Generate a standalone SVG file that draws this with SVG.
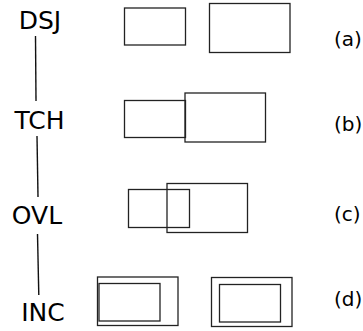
<svg xmlns="http://www.w3.org/2000/svg" width="363" height="331" viewBox="0 0 363 331">
<style>
.lbl{font-family:"DejaVu Sans",sans-serif;font-size:25px;fill:#000;text-anchor:middle}
.tag{font-family:"DejaVu Sans",sans-serif;font-size:20px;fill:#000}
.box{fill:none;stroke:#222;stroke-width:1.3}
.edge{stroke:#111;stroke-width:1.4;fill:none}
</style>
<rect width="363" height="331" fill="#fff"/>
<g id="connectors">
<line class="edge" x1="35.5" y1="36" x2="36" y2="101"/>
<line class="edge" x1="37" y1="136" x2="38" y2="197"/>
<line class="edge" x1="37.5" y1="234" x2="38.8" y2="295"/>
</g>
<g id="DSJ"><text class="lbl" x="40" y="28.5">DSJ</text></g>
<g id="TCH"><text class="lbl" x="39.5" y="128.5">TCH</text></g>
<g id="OVL"><text class="lbl" x="37" y="223.5">OVL</text></g>
<g id="INC"><text class="lbl" x="43" y="321">INC</text></g>
<g id="a">
<rect class="box" x="124.5" y="8" width="61" height="37"/>
<rect class="box" x="209.5" y="3.5" width="80.5" height="49"/>
<text class="tag" x="334" y="46">(a)</text>
</g>
<g id="b">
<rect class="box" x="124.5" y="100.5" width="61" height="37"/>
<rect class="box" x="185" y="93" width="80.5" height="49"/>
<text class="tag" x="334" y="131">(b)</text>
</g>
<g id="c">
<rect class="box" x="128.5" y="189.5" width="61" height="38"/>
<rect class="box" x="167" y="183.5" width="80.5" height="49"/>
<text class="tag" x="334" y="221">(c)</text>
</g>
<g id="d">
<rect class="box" x="97.5" y="277" width="80.5" height="48.5"/>
<rect class="box" x="99" y="283.5" width="61" height="37.5"/>
<rect class="box" x="211.5" y="277.5" width="80.5" height="49"/>
<rect class="box" x="219.5" y="284.5" width="61" height="37.5"/>
<text class="tag" x="334" y="306">(d)</text>
</g>
</svg>
